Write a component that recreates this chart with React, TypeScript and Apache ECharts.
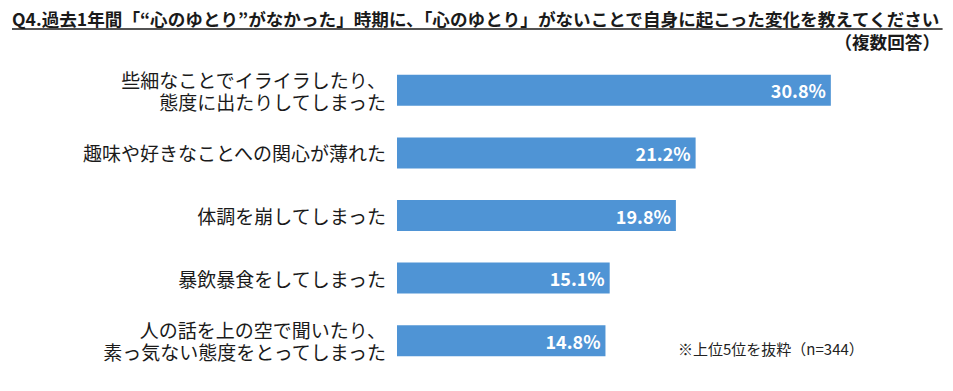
import React, { useEffect, useRef } from "react";
import * as echarts from "echarts";

const categories = [
  "些細なことでイライラしたり、\n態度に出たりしてしまった",
  "趣味や好きなことへの関心が薄れた",
  "体調を崩してしまった",
  "暴飲暴食をしてしまった",
  "人の話を上の空で聞いたり、\n素っ気ない態度をとってしまった",
];
const values = [30.8, 21.2, 19.8, 15.1, 14.8];
const titleText =
  "Q4.過去1年間「“心のゆとり”がなかった」時期に、「心のゆとり」がないことで自身に起こった変化を教えてください";
const subTitleText = "（複数回答）";
const noteText = "※上位5位を抜粋（n=344）";

const FONT = '"Noto Sans CJK JP", "Noto Sans", sans-serif';

export default function App() {
  const ref = useRef<HTMLDivElement>(null);
  useEffect(() => {
    if (!ref.current) return;
    const chart = echarts.init(ref.current, undefined, { renderer: "svg" });
    const canvas = document.createElement("canvas");
    const ctx = canvas.getContext("2d")!;
    const titleFont = `bold 17.6px ${FONT}`;
    ctx.font = titleFont;
    const tw = ctx.measureText(titleText).width;
    const titleX = 12;
    chart.setOption({
      animation: false,
      grid: { left: 397, top: 59, height: 313, width: 493 },
      xAxis: {
        type: "value",
        min: 0,
        max: 35,
        show: false,
      },
      yAxis: {
        type: "category",
        data: categories,
        inverse: true,
        axisLine: { show: false },
        axisTick: { show: false },
        splitLine: { show: false },
        axisLabel: {
          margin: 11,
          fontSize: 19,
          lineHeight: 22,
          color: "#1a1a1a",
          fontFamily: FONT,
        },
      },
      series: [
        {
          type: "bar",
          data: values,
          barWidth: 31,
          itemStyle: { color: "#4f94d5" },
          label: {
            show: true,
            position: "insideRight",
            distance: 5,
            formatter: (p: any) => p.value.toFixed(1) + "%",
            color: "#ffffff",
            fontSize: 18,
            fontWeight: "bold",
            fontFamily: FONT,
          },
        },
      ],
      graphic: [
        {
          type: "text",
          style: {
            text: titleText,
            x: titleX,
            y: 18.5,
            font: titleFont,
            fill: "#1a1a1a",
            textAlign: "left",
            textVerticalAlign: "middle",
          },
        },
        {
          type: "line",
          shape: { x1: titleX, y1: 29, x2: titleX + tw, y2: 29 },
          style: { stroke: "#1a1a1a", lineWidth: 1.3 },
        },
        {
          type: "text",
          style: {
            text: subTitleText,
            x: 940,
            y: 41,
            font: titleFont,
            fill: "#1a1a1a",
            textAlign: "right",
            textVerticalAlign: "middle",
          },
        },
        {
          type: "text",
          style: {
            text: noteText,
            x: 678,
            y: 348,
            font: `15px ${FONT}`,
            fill: "#222222",
            textAlign: "left",
            textVerticalAlign: "middle",
          },
        },
      ],
    });
    return () => chart.dispose();
  }, []);
  return (
    <div
      ref={ref}
      style={{ position: "fixed", left: 0, top: 0, width: 953, height: 391, background: "#fff" }}
    />
  );
}
